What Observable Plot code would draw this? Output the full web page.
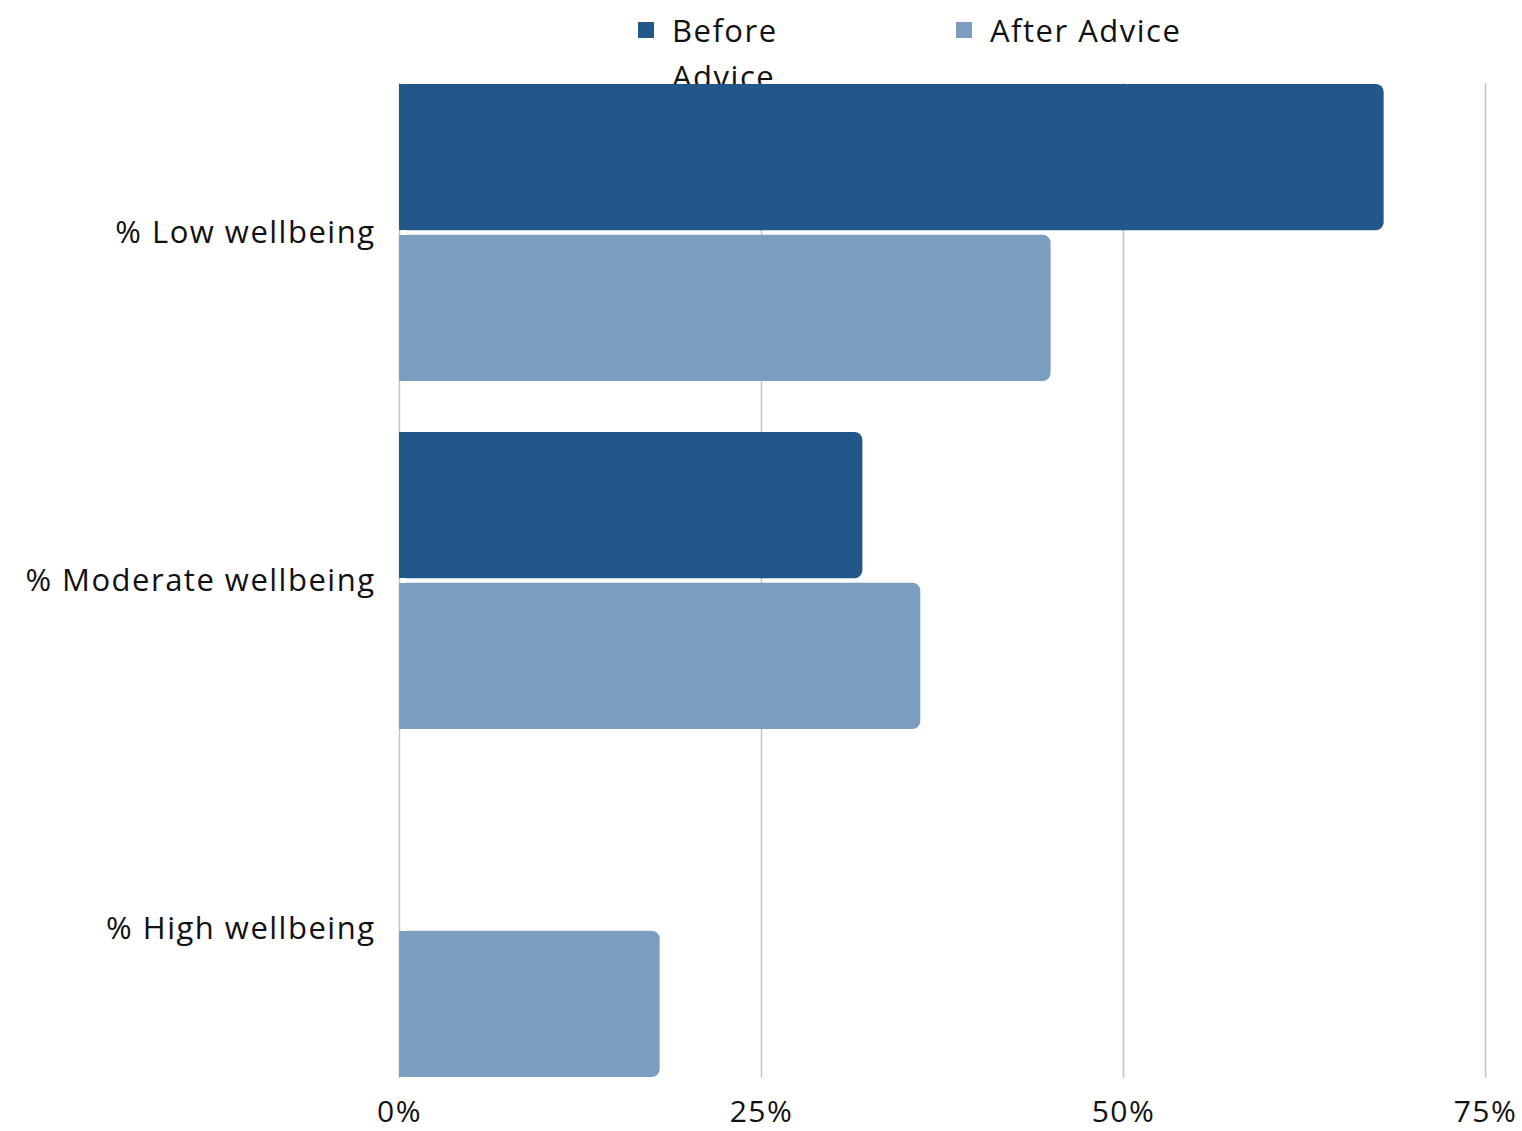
<!DOCTYPE html>
<html>
<head>
<meta charset="utf-8">
<script src="https://cdn.jsdelivr.net/npm/d3@7"></script>
<script src="https://cdn.jsdelivr.net/npm/@observablehq/plot@0.6"></script>
<style>
  html, body { margin: 0; padding: 0; background: #fff; }
  #wrap { position: relative; width: 1522px; height: 1131px; font-family: "Open Sans", "Noto Sans", sans-serif; }
  #legend { position: absolute; left: 0; top: 0; z-index: 0; }
  .item { position: absolute; font-size: 31px; line-height: 46px; color: #111; letter-spacing: 1.5px; white-space: nowrap; }
  .sw { position: absolute; width: 16px; height: 16px; }
  #chart { position: absolute; left: 0; top: 0; z-index: 1; }
  #chart svg { background: transparent !important; }
  #chart svg text { letter-spacing: 1.5px; }
</style>
</head>
<body>
<div id="wrap">
  <div id="legend"></div>
  <div id="chart"></div>
</div>
<script>
const categories = ["% Low wellbeing", "% Moderate wellbeing", "% High wellbeing"];
const series = ["Before Advice", "After Advice"];
const beforeValues = [68, 32, 0];
const afterValues = [45, 36, 18];
const xTicks = [0, 25, 50, 75];
const colors = ["#225789", "#7b9dc0"];

const before = categories.map((c, i) => ({category: c, series: series[0], value: beforeValues[i]}));
const after = categories.map((c, i) => ({category: c, series: series[1], value: afterValues[i]}));

// legend
const legend = document.getElementById("legend");
const legendItems = [
  {label: "Before<br>Advice", color: colors[0], sx: 638, tx: 672},
  {label: "After Advice", color: colors[1], sx: 956, tx: 990}
];
for (const it of legendItems) {
  const sw = document.createElement("div");
  sw.className = "sw";
  sw.style.left = it.sx + "px";
  sw.style.top = "22px";
  sw.style.background = it.color;
  legend.appendChild(sw);
  const t = document.createElement("div");
  t.className = "item";
  t.style.left = it.tx + "px";
  t.style.top = "7px";
  t.innerHTML = it.label;
  legend.appendChild(t);
}

const H = 1131, mTop = 83, mBottom = 53;
const pInner = 0.146;
const step = (H - mTop - mBottom) / (categories.length - pInner);
const bw = step * (1 - pInner);
const barH = 147;
const inset = bw - barH;

const chart = Plot.plot({
  width: 1522,
  height: H,
  marginTop: mTop,
  marginBottom: mBottom,
  marginLeft: 399,
  marginRight: 37,
  style: {fontFamily: "'Open Sans', 'Noto Sans', sans-serif", fontSize: "31px", color: "#111", background: "transparent"},
  x: {domain: [0, 75], ticks: xTicks, tickFormat: d => d + "%"},
  y: {domain: categories, paddingInner: pInner, paddingOuter: 0},
  marks: [
    Plot.gridX(xTicks, {stroke: "#c4c4c4", strokeOpacity: 1, strokeWidth: 1.5}),
    Plot.barX(before, {y: "category", x1: 0, x2: "value", fill: colors[0], insetBottom: inset, rx: 8}),
    Plot.barX(before.filter(d => d.value > 0), {y: "category", x1: 0, x2: d => d.value / 2, fill: colors[0], insetBottom: inset, shapeRendering: "crispEdges"}),
    Plot.barX(after, {y: "category", x1: 0, x2: "value", fill: colors[1], insetTop: inset, rx: 8}),
    Plot.barX(after.filter(d => d.value > 0), {y: "category", x1: 0, x2: d => d.value / 2, fill: colors[1], insetTop: inset, shapeRendering: "crispEdges"}),
    Plot.axisY({tickSize: 0, tickPadding: 24, fontSize: 31, label: null}),
    Plot.axisX(xTicks, {tickSize: 0, tickPadding: 22, fontSize: 30, label: null, tickFormat: d => d + "%"})
  ]
});
document.getElementById("chart").appendChild(chart);
</script>
</body>
</html>
